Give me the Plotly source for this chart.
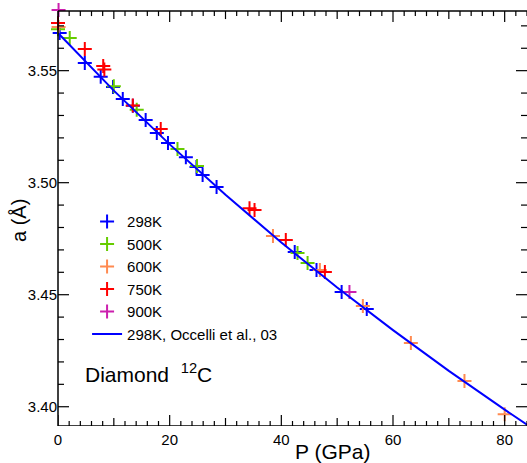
import plotly.graph_objects as go

# ---- data ----
P_298 = [0.3, 4.8, 7.65, 9.85, 11.6, 13.4, 15.7, 17.7, 19.7, 22.9, 24.8, 25.9, 28.4, 42.4, 46.3, 50.8, 55.3]
A_298 = [3.5668, 3.5534, 3.5473, 3.5427, 3.5374, 3.5343, 3.5280, 3.5222, 3.5177, 3.5113, 3.5070, 3.5034, 3.4981, 3.4691, 3.4610, 3.4512, 3.4436]

P_500 = [0.0, 2.1, 10.0, 14.1, 21.4, 24.9, 42.9, 44.7]
A_500 = [3.5685, 3.5646, 3.5430, 3.5325, 3.5150, 3.5074, 3.4686, 3.4641]

P_600 = [0.1, 38.5, 46.9, 54.6, 63.2, 72.8, 80.0]
A_600 = [3.5695, 3.4762, 3.4610, 3.4450, 3.4285, 3.4115, 3.3967]

P_750 = [0.0, 4.8, 8.1, 8.3, 13.4, 18.4, 34.3, 35.2, 40.8, 47.8]
A_750 = [3.5713, 3.5597, 3.5521, 3.5505, 3.5345, 3.5240, 3.4886, 3.4878, 3.4744, 3.4601]

P_900 = [0.1, 52.2]
A_900 = [3.5771, 3.4512]

P_fit = [0, 10, 20, 30, 40, 50, 60, 70, 80, 84]
A_fit = [3.5668, 3.5411, 3.5171, 3.4946, 3.4733, 3.4532, 3.4342, 3.4160, 3.3987, 3.3920]

# axis frame / tick positions
X_MAX = 84
Y_BOT, Y_TOP = 3.3914, 3.5766      # visible frame
Y_RANGE_TOP = 3.5802               # a little room above the frame for markers
X_MAJOR = [0, 20, 40, 60, 80]
X_MID = [10, 30, 50, 70]
X_MINOR = [v for v in range(2, 85, 2) if v % 10 != 0]
Y_MAJOR = [3.40, 3.45, 3.50, 3.55]
Y_MINOR = [round(3.39 + 0.01 * i, 2) for i in range(0, 19) if i % 5 != 1]

series = [
    ("298K", P_298, A_298, "#0000ff"),
    ("500K", P_500, A_500, "#66cc00"),
    ("600K", P_600, A_600, "#ff8a50"),
    ("750K", P_750, A_750, "#ff0000"),
    ("900K", P_900, A_900, "#cc1fae"),
]

FONT = "Liberation Sans, Arial, sans-serif"
TK = dict(color="black", width=1.2)
FR = dict(color="black", width=1.5)

fig = go.Figure()
for name, px_, py_, col in series:
    fig.add_trace(go.Scatter(
        x=px_, y=py_, mode="markers", name=name, cliponaxis=False,
        marker=dict(symbol="cross-thin-open", size=10, color=col,
                    line=dict(color=col, width=2)),
    ))
fig.add_trace(go.Scatter(x=P_fit, y=A_fit, mode="lines",
                         name="298K, Occelli et al., 03",
                         line=dict(color="#0000ff", width=2)))

shapes = [
    dict(type="line", xref="paper", yref="y", x0=0, x1=0, y0=Y_BOT, y1=Y_TOP, line=FR),
    dict(type="line", xref="paper", yref="y", x0=0, x1=1, y0=Y_BOT, y1=Y_BOT, line=FR),
    dict(type="line", xref="paper", yref="y", x0=0, x1=1, y0=Y_TOP, y1=Y_TOP, line=FR),
]
# x ticks, bottom and top
for vals, L in [(X_MAJOR, 11), (X_MID, 8), (X_MINOR, 5)]:
    for v in vals:
        shapes.append(dict(type="line", xref="x", yref="y", ysizemode="pixel",
                           yanchor=Y_BOT, x0=v, x1=v, y0=0, y1=L, line=TK))
        shapes.append(dict(type="line", xref="x", yref="y", ysizemode="pixel",
                           yanchor=Y_TOP, x0=v, x1=v, y0=0, y1=-L, line=TK))
# y ticks, left and right
for vals, L in [(Y_MAJOR, 11), (Y_MINOR, 6)]:
    for v in vals:
        shapes.append(dict(type="line", xref="paper", yref="y", xsizemode="pixel",
                           xanchor=0, x0=0, x1=L, y0=v, y1=v, line=TK))
        shapes.append(dict(type="line", xref="paper", yref="y", xsizemode="pixel",
                           xanchor=1, x0=0, x1=-L, y0=v, y1=v, line=TK))

fig.update_layout(
    width=527, height=463,
    margin=dict(l=58, r=0, t=3, b=37),
    plot_bgcolor="white", paper_bgcolor="white",
    font=dict(family=FONT, size=15, color="black"),
    showlegend=True,
    legend=dict(x=0.062, y=0.522, xanchor="left", yanchor="top",
                bgcolor="rgba(0,0,0,0)", font=dict(size=15, family=FONT)),
    xaxis=dict(range=[0, X_MAX], tick0=0, dtick=20, ticks="", showline=False,
               showgrid=False, zeroline=False, tickfont=dict(size=15),
               ticklabelstandoff=3),
    yaxis=dict(range=[Y_BOT, Y_RANGE_TOP], tickvals=Y_MAJOR, tickformat=".2f",
               ticks="", showline=False, showgrid=False, zeroline=False,
               tickfont=dict(size=15)),
    shapes=shapes,
    annotations=[
        dict(text="P (GPa)", xref="paper", yref="paper", x=0.586, y=0,
             xanchor="center", yanchor="middle", yshift=-25, showarrow=False,
             font=dict(size=21, family=FONT)),
        dict(text="a (Å)", xref="paper", yref="paper", x=0, y=0.4846,
             xanchor="center", yanchor="middle", xshift=-39, textangle=-90,
             showarrow=False, font=dict(size=20, family=FONT)),
        dict(text="Diamond  <sup>12</sup>C", xref="paper", yref="paper",
             x=0.053, y=0.1246, xanchor="left", yanchor="middle", showarrow=False,
             font=dict(size=21, family=FONT)),
    ],
)

fig.write_html("out.html", config={"displayModeBar": False},
               post_script="document.body.style.margin='0';")
